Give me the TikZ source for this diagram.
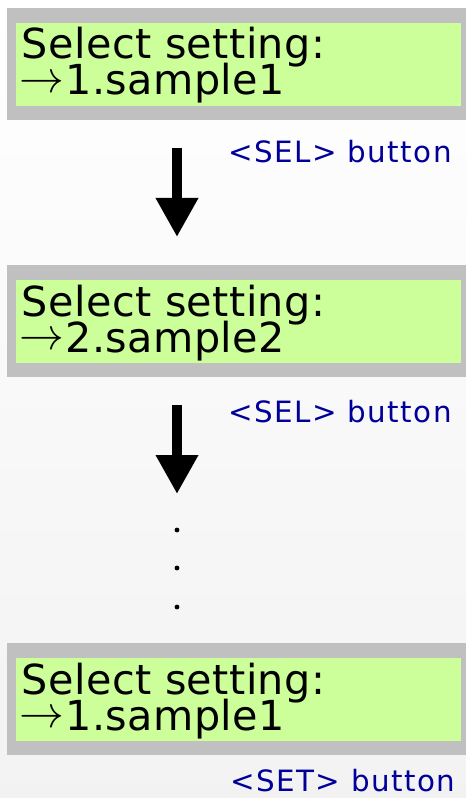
\documentclass[tikz,border=0pt]{standalone}
\usepackage{fontspec}
\usepackage{tikz}
\usetikzlibrary{arrows.meta}

\newfontfamily\lcdfont[LetterSpace=1]{DejaVu Sans}
\newfontfamily\keyfont[LetterSpace=5]{DejaVu Sans}
\definecolor{lcdgreen}{HTML}{CCFF99}
\definecolor{framegray}{HTML}{C0C0C0}
\definecolor{keyblue}{HTML}{000099}

\begin{document}
\begin{tikzpicture}[x=0.75pt, y=-0.75pt,
    lcdtext/.style={anchor=base west, inner sep=0pt, align=left,
        font=\lcdfont\fontsize{31}{27.75}\selectfont},
    keylabel/.style={anchor=base west, inner sep=0pt, text=keyblue, font=\keyfont\fontsize{22}{22}\selectfont},
    flow/.style={line width=7.5pt, -{Triangle[length=29.25pt, width=30pt]}}]

% Background
\useasboundingbox (0,0) rectangle (466,798);
\shade[top color=white, bottom color=black!5] (0,0) rectangle (466,798);

% LCD screens
\foreach \y/\n/\item in {8/1/1.sample1, 265/2/2.sample2, 643/3/1.sample1}
{
    \fill[framegray] (7,\y) rectangle (466,\y+112);
    \fill[lcdgreen] (16,\y+15) rectangle (461,\y+98);
    \node[lcdtext] (screen\n) at (19,\y+87)
        {\hspace{2pt}Select setting:\\[-4pt]\raisebox{2pt}{\scalebox{1.35}{$\rightarrow$}}\hspace{1pt}\item};
}

% Arrows between the screens
\coordinate (sel1s) at (177,148);
\coordinate (sel1e) at (177,237);
\coordinate (sel2s) at (177,405);
\coordinate (sel2e) at (177,494);
\draw[flow] (sel1s) -- (sel1e);
\draw[flow] (sel2s) -- (sel2e);

% Button labels
\node[keylabel] (sel1) at (228,163) {<SEL> button};
\node[keylabel] (sel2) at (228,422) {<SEL> button};
\node[keylabel] (set) at (230,791) {<SET> button};

% Dots
\foreach \y in {530,568,607}
{
    \fill (177,\y) circle (1.8pt);
}

\end{tikzpicture}
\end{document}
